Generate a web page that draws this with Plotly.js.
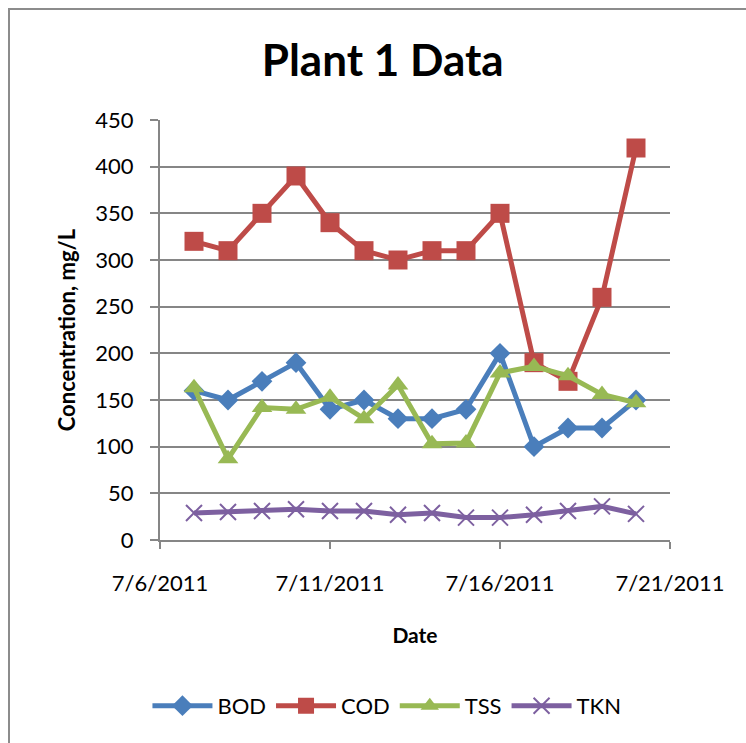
<!DOCTYPE html>
<html>
<head>
<meta charset="utf-8">
<script src="https://cdn.plot.ly/plotly-3.0.1.min.js"></script>
<style>
html,body{margin:0;padding:0;background:#fff;overflow:hidden;}
#chart{position:absolute;left:0;top:0;width:746px;height:743px;}
#frame{position:absolute;left:8px;top:8px;width:800px;height:800px;border:2px solid #8c8c8c;pointer-events:none;}
</style>
</head>
<body>
<div id="chart"></div>
<div id="frame"></div>
<script>
const dates = ["2011-07-07","2011-07-08","2011-07-09","2011-07-10","2011-07-11","2011-07-12","2011-07-13",
               "2011-07-14","2011-07-15","2011-07-16","2011-07-17","2011-07-18","2011-07-19","2011-07-20"];
const bod = [160,150,170,190,140,150,130,130,140,200,100,120,120,150];
const cod = [320,310,350,390,340,310,300,310,310,350,190,170,260,420];
const tss = [163,87,142,140,153,130,166,103,104,179,186,176,156,147];
const tkn = [29,30,31,33,31,31,27,29,24,24,27,31,36,28];
const tickVals = ["2011-07-06","2011-07-11","2011-07-16","2011-07-21"];
const tickText = ["7/6/2011","7/11/2011","7/16/2011","7/21/2011"];
const yTicks = [0,50,100,150,200,250,300,350,400,450];

const FONT = 'Lato, "Open Sans", sans-serif';

const traces = [
  {name:"BOD", x:dates, y:bod, mode:"lines+markers",
   line:{color:"#4a7ebb", width:5}, marker:{symbol:"diamond", size:16, color:"#4a7ebb"}},
  {name:"COD", x:dates, y:cod, mode:"lines+markers",
   line:{color:"#be4b48", width:5}, marker:{symbol:"square", size:19, color:"#be4b48"}},
  {name:"TSS", x:dates, y:tss, mode:"lines+markers",
   line:{color:"#98b954", width:5}, marker:{symbol:"triangle-up", size:18, color:"#98b954"}},
  {name:"TKN", x:dates, y:tkn, mode:"lines+markers",
   line:{color:"#7d60a0", width:5}, marker:{symbol:"x-thin", size:16, line:{color:"#7d60a0", width:2}, color:"#7d60a0"}}
];

const layout = {
  width:746, height:743,
  margin:{l:160, r:76, t:120, b:203},
  paper_bgcolor:"#fff", plot_bgcolor:"#fff",
  font:{family:FONT, size:22, color:"#000"},
  title:{text:"<b>Plant 1 Data</b>", font:{family:FONT, size:44, color:"#000"},
         x:0.513, xanchor:"center", y:0.918, yanchor:"middle"},
  xaxis:{type:"date", range:["2011-07-06","2011-07-21"], tickmode:"array",
         tickvals:tickVals, ticktext:tickText, showgrid:false, zeroline:false,
         showline:true, linecolor:"#868686", linewidth:2,
         ticks:"outside", ticklen:7, tickcolor:"#868686", tickwidth:2,
         tickfont:{family:FONT, size:22}, ticklabelstandoff:16,
         title:{text:"<b>Date</b>", font:{family:FONT, size:21}, standoff:33}},
  yaxis:{range:[0,450], tickmode:"array", tickvals:yTicks, showgrid:true,
         gridcolor:"#868686", gridwidth:2, zeroline:false,
         showline:true, linecolor:"#868686", linewidth:2,
         ticks:"outside", ticklen:8, tickcolor:"#868686", tickwidth:2,
         tickfont:{family:FONT, size:22}, ticklabelstandoff:12,
         title:{text:"<b>Concentration, mg/L</b>", font:{family:FONT, size:22}, standoff:14}},
  legend:{orientation:"h", x:0.445, xanchor:"center", y:-0.395, yanchor:"middle",
          font:{family:FONT, size:22}, itemwidth:60},
  showlegend:true
};

Plotly.newPlot("chart", traces, layout, {displayModeBar:false, staticPlot:true});
</script>
</body>
</html>
